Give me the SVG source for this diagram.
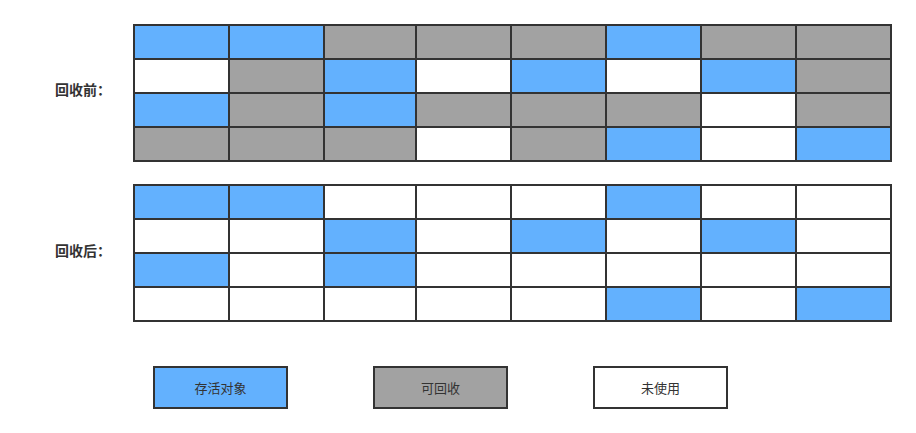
<svg xmlns="http://www.w3.org/2000/svg" width="916" height="433" viewBox="0 0 916 433">
<style>
.b{fill:#63b1fe}
.g{fill:#a2a2a2}
.w{fill:#ffffff}
rect{stroke:#333333;stroke-width:2}
text{font-family:"Noto Sans CJK SC","Noto Sans",sans-serif;fill:#333333}
.lbl{font-size:14px;font-weight:bold}
.leg{font-size:13px;text-anchor:middle}
</style>
<rect x="0" y="0" width="916" height="433" fill="#ffffff" style="stroke:none"/>
<g id="label-before"><text class="lbl" x="55" y="95">回收前：</text></g>
<g id="label-after"><text class="lbl" x="55" y="256">回收后：</text></g>
<g id="grid-before">
<rect class="b" x="134" y="25" width="95" height="34"/><rect class="b" x="229" y="25" width="95" height="34"/><rect class="g" x="324" y="25" width="92" height="34"/><rect class="g" x="416" y="25" width="95" height="34"/><rect class="g" x="511" y="25" width="95" height="34"/><rect class="b" x="606" y="25" width="95" height="34"/><rect class="g" x="701" y="25" width="95" height="34"/><rect class="g" x="796" y="25" width="95" height="34"/>
<rect class="w" x="134" y="59" width="95" height="34"/><rect class="g" x="229" y="59" width="95" height="34"/><rect class="b" x="324" y="59" width="92" height="34"/><rect class="w" x="416" y="59" width="95" height="34"/><rect class="b" x="511" y="59" width="95" height="34"/><rect class="w" x="606" y="59" width="95" height="34"/><rect class="b" x="701" y="59" width="95" height="34"/><rect class="g" x="796" y="59" width="95" height="34"/>
<rect class="b" x="134" y="93" width="95" height="34"/><rect class="g" x="229" y="93" width="95" height="34"/><rect class="b" x="324" y="93" width="92" height="34"/><rect class="g" x="416" y="93" width="95" height="34"/><rect class="g" x="511" y="93" width="95" height="34"/><rect class="g" x="606" y="93" width="95" height="34"/><rect class="w" x="701" y="93" width="95" height="34"/><rect class="g" x="796" y="93" width="95" height="34"/>
<rect class="g" x="134" y="127" width="95" height="34"/><rect class="g" x="229" y="127" width="95" height="34"/><rect class="g" x="324" y="127" width="92" height="34"/><rect class="w" x="416" y="127" width="95" height="34"/><rect class="g" x="511" y="127" width="95" height="34"/><rect class="b" x="606" y="127" width="95" height="34"/><rect class="w" x="701" y="127" width="95" height="34"/><rect class="b" x="796" y="127" width="95" height="34"/>
</g>
<g id="grid-after">
<rect class="b" x="134" y="185" width="95" height="34"/><rect class="b" x="229" y="185" width="95" height="34"/><rect class="w" x="324" y="185" width="92" height="34"/><rect class="w" x="416" y="185" width="95" height="34"/><rect class="w" x="511" y="185" width="95" height="34"/><rect class="b" x="606" y="185" width="95" height="34"/><rect class="w" x="701" y="185" width="95" height="34"/><rect class="w" x="796" y="185" width="95" height="34"/>
<rect class="w" x="134" y="219" width="95" height="34"/><rect class="w" x="229" y="219" width="95" height="34"/><rect class="b" x="324" y="219" width="92" height="34"/><rect class="w" x="416" y="219" width="95" height="34"/><rect class="b" x="511" y="219" width="95" height="34"/><rect class="w" x="606" y="219" width="95" height="34"/><rect class="b" x="701" y="219" width="95" height="34"/><rect class="w" x="796" y="219" width="95" height="34"/>
<rect class="b" x="134" y="253" width="95" height="34"/><rect class="w" x="229" y="253" width="95" height="34"/><rect class="b" x="324" y="253" width="92" height="34"/><rect class="w" x="416" y="253" width="95" height="34"/><rect class="w" x="511" y="253" width="95" height="34"/><rect class="w" x="606" y="253" width="95" height="34"/><rect class="w" x="701" y="253" width="95" height="34"/><rect class="w" x="796" y="253" width="95" height="34"/>
<rect class="w" x="134" y="287" width="95" height="34"/><rect class="w" x="229" y="287" width="95" height="34"/><rect class="w" x="324" y="287" width="92" height="34"/><rect class="w" x="416" y="287" width="95" height="34"/><rect class="w" x="511" y="287" width="95" height="34"/><rect class="b" x="606" y="287" width="95" height="34"/><rect class="w" x="701" y="287" width="95" height="34"/><rect class="b" x="796" y="287" width="95" height="34"/>
</g>
<g id="legend-live"><rect class="b" x="154" y="367" width="133" height="41"/><text class="leg" x="220.5" y="393">存活对象</text></g>
<g id="legend-reclaim"><rect class="g" x="374" y="367" width="133" height="41"/><text class="leg" x="440.5" y="393">可回收</text></g>
<g id="legend-unused"><rect class="w" x="594" y="367" width="133" height="41"/><text class="leg" x="660.5" y="393">未使用</text></g>
<g id="connectors"></g>
</svg>
